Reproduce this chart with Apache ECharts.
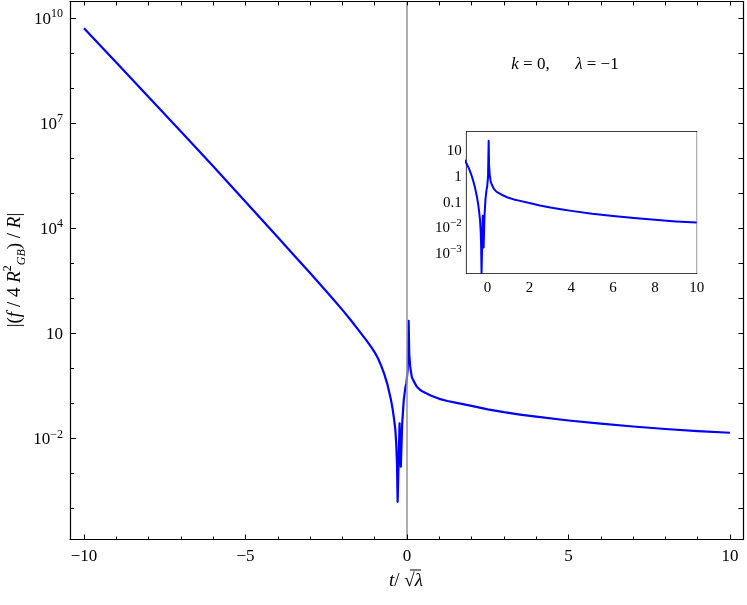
<!DOCTYPE html>
<html><head><meta charset="utf-8">
<script src="https://cdn.jsdelivr.net/npm/echarts@6/dist/echarts.min.js"></script>
<style>html,body{margin:0;padding:0;background:#fff}#c{width:747px;height:605px}</style>
</head><body><div id="c"></div>
<script>
// t / sqrt(lambda)
const tValues = [-10,-9,-8,-7,-6,-5,-4,-3.5,-3,-2.5,-2.25,-2,-1.75,-1.5,-1.25,-1.1,-1,-0.9,-0.8,-0.7,-0.6,-0.5,-0.45,-0.4,-0.36,-0.33,-0.31,-0.29,-0.23,-0.19,-0.15,-0.1,-0.05,-0.02,0.02,0.05,0.07,0.1,0.15,0.2,0.3,0.4,0.5,0.75,1,1.25,1.5,2,2.5,3,3.5,4,5,6,7,8,9,10];
// |(f / 4 R_GB^2) / R|
const ratioValues = [5.13e9,5.37e8,5.62e7,5.75e6,5.89e5,5.75e4,5.5e3,1.7e3,525,158,87,46.8,24.5,12.3,6.17,3.98,2.88,1.95,1.2,0.676,0.331,0.132,0.0741,0.0355,0.0174,6.3e-3,1.95e-3,1.55e-4,0.0269,1.55e-3,0.0251,0.126,0.282,0.372,0.891,22.9,2.51,1.1,0.562,0.447,0.302,0.245,0.214,0.166,0.135,0.117,0.105,0.0851,0.0676,0.0562,0.048,0.0417,0.0324,0.0263,0.0219,0.0186,0.0162,0.0145];
const mainXTickLabels = [-10,-5,0,5,10];
const mainYLabelExponents = [10,7,4,1,-2];
const insetXTickLabels = [0,2,4,6,8,10];
const insetYLabelExponents = [1,0,-1,-2,-3];

const SERIF = "'Liberation Serif','DejaVu Serif',serif";
const MINUS = '\u2212';
const BLUE = '#0000ff';
const logData = tValues.map((t,i)=>[t, Math.log10(ratioValues[i])]);

function range(a,b,s){const r=[];for(let v=a;v<=b+1e-9;v+=s)r.push(+v.toFixed(6));return r;}
function minorLog(lo,hi){const r=[];for(let n=Math.floor(lo);n<=Math.ceil(hi);n++){for(let k=2;k<=9;k++){const v=n+Math.log10(k);if(v>lo&&v<hi)r.push(v);}}return r;}
function powLabel(e){ if(e===1) return '{b|10}'; return '{b|10}{s|'+(e<0?MINUS+(-e):e)+'}'; }
function insetPow(e){ if(e===1) return '{b|10}'; if(e===0) return '{b|1}'; if(e===-1) return '{b|0.1}'; return '{b|10}{s|'+(e<0?MINUS+(-e):e)+'}'; }
function numLabel(v){ return v<0 ? MINUS+(-v) : ''+v; }

const MX=[-10.433,10.418], MY=[-4.886,10.474];
const IX=[-1,10], IY=[-3.82,1.715];
const line={show:true,onZero:false,lineStyle:{color:'#000',width:1.2}};
const noLine={show:false,onZero:false};
const tick=(len,vals)=>({show:true,inside:true,length:len,customValues:vals,lineStyle:{color:'#000',width:1}});
const noLabel={show:false};
const richMain={b:{fontFamily:SERIF,fontSize:17,color:'#000',verticalAlign:'bottom',lineHeight:20},s:{fontFamily:SERIF,fontSize:12,color:'#000',verticalAlign:'top',lineHeight:20}};
const richInset={b:{fontFamily:SERIF,fontSize:15,color:'#000',verticalAlign:'bottom',lineHeight:18},s:{fontFamily:SERIF,fontSize:11,color:'#000',verticalAlign:'top',lineHeight:18}};
const base=(g,mm)=>({type:'value',gridIndex:g,min:mm[0],max:mm[1],splitLine:{show:false},z:5});

const option={
  animation:false,
  backgroundColor:'#fff',
  grid:[
    {left:70,top:1.5,width:673.5,height:538,containLabel:false},
    {left:466.7,top:131.7,width:230,height:141.6,containLabel:false,show:true,backgroundColor:'#fff',borderWidth:0,z:10}
  ],
  xAxis:[
    Object.assign(base(0,MX),{position:'bottom',axisLine:line,axisTick:tick(5,mainXTickLabels),
      axisLabel:{customValues:mainXTickLabels,formatter:numLabel,margin:9,fontFamily:SERIF,fontSize:17,color:'#000'}}),
    Object.assign(base(0,MX),{position:'bottom',axisLine:noLine,axisTick:tick(3,range(-10,10,1)),axisLabel:noLabel}),
    Object.assign(base(0,MX),{position:'top',axisLine:line,axisTick:tick(4,range(-10,10,1)),axisLabel:noLabel}),
    Object.assign(base(1,IX),{position:'bottom',axisLine:line,axisTick:tick(4,insetXTickLabels),
      axisLabel:{customValues:insetXTickLabels,formatter:numLabel,margin:7,fontFamily:SERIF,fontSize:15,color:'#000'}}),
    Object.assign(base(1,IX),{position:'bottom',axisLine:noLine,axisTick:tick(2.5,range(-1,10,0.5)),axisLabel:noLabel}),
    Object.assign(base(1,IX),{position:'top',axisLine:line,axisTick:tick(2.5,range(-1,10,0.5)),axisLabel:noLabel})
  ],
  yAxis:[
    Object.assign(base(0,MY),{position:'left',axisLine:line,axisTick:tick(6,mainYLabelExponents),
      axisLabel:{customValues:mainYLabelExponents,formatter:powLabel,margin:7,rich:richMain}}),
    Object.assign(base(0,MY),{position:'left',axisLine:noLine,axisTick:tick(4,range(-4,10,1)),axisLabel:noLabel}),
    Object.assign(base(0,MY),{position:'right',axisLine:line,axisTick:tick(5,range(-4,10,1)),axisLabel:noLabel}),
    Object.assign(base(1,IY),{position:'left',axisLine:line,axisTick:tick(4,insetYLabelExponents),
      axisLabel:{customValues:insetYLabelExponents,formatter:insetPow,margin:5,rich:richInset}}),
    Object.assign(base(1,IY),{position:'left',axisLine:noLine,axisTick:tick(2.5,minorLog(IY[0],IY[1])),axisLabel:noLabel}),
    Object.assign(base(1,IY),{position:'right',axisLine:line,axisTick:tick(2.5,minorLog(IY[0],IY[1]).concat(insetYLabelExponents)),axisLabel:noLabel})
  ],
  series:[
    {type:'line',xAxisIndex:0,yAxisIndex:0,data:[],silent:true,
      markLine:{silent:true,symbol:'none',label:{show:false},lineStyle:{color:'#999',width:1.6,type:'solid'},data:[{xAxis:0}],animation:false}},
    {type:'line',xAxisIndex:0,yAxisIndex:0,data:logData,showSymbol:false,smooth:false,clip:true,
      lineStyle:{color:BLUE,width:2.2,join:'round'},z:3},
    {type:'line',xAxisIndex:3,yAxisIndex:3,data:logData,showSymbol:false,smooth:false,clip:true,
      lineStyle:{color:BLUE,width:2,join:'round'},z:12}
  ],
  graphic:[
    {type:'text',x:565,y:65,style:{text:'{i|k}{n| = 0,      }{i|λ}{n| = '+MINUS+'1}',align:'center',verticalAlign:'middle',
      rich:{i:{fontFamily:SERIF,fontStyle:'italic',fontSize:17,color:'#000'},n:{fontFamily:SERIF,fontSize:17,color:'#000'}}}},
    {type:'text',x:406,y:581,style:{text:'{i|t}{n|/ √}{i|λ}',align:'center',verticalAlign:'middle',
      rich:{i:{fontFamily:SERIF,fontStyle:'italic',fontSize:19,color:'#000'},n:{fontFamily:SERIF,fontSize:19,color:'#000'}}}},
    {type:'line',shape:{x1:410,y1:570,x2:421,y2:570},style:{stroke:'#000',lineWidth:1}},
    {type:'text',x:15,y:270,rotation:Math.PI/2,style:{text:'{n||(}{i|f}{n| / 4 }{i|R}{sup|2}{sub|GB}{n|) / }{i|R}{n||}',align:'center',verticalAlign:'middle',
      rich:{i:{fontFamily:SERIF,fontStyle:'italic',fontSize:19,color:'#000',lineHeight:26,verticalAlign:'middle'},
            n:{fontFamily:SERIF,fontSize:19,color:'#000',lineHeight:26,verticalAlign:'middle'},
            sup:{fontFamily:SERIF,fontSize:12,color:'#000',lineHeight:26,verticalAlign:'top'},
            sub:{fontFamily:SERIF,fontStyle:'italic',fontSize:12,color:'#000',lineHeight:26,verticalAlign:'bottom'}}}}
  ]
};
const chart=echarts.init(document.getElementById('c'),null,{renderer:'canvas'});
chart.setOption(option);
</script></body></html>
